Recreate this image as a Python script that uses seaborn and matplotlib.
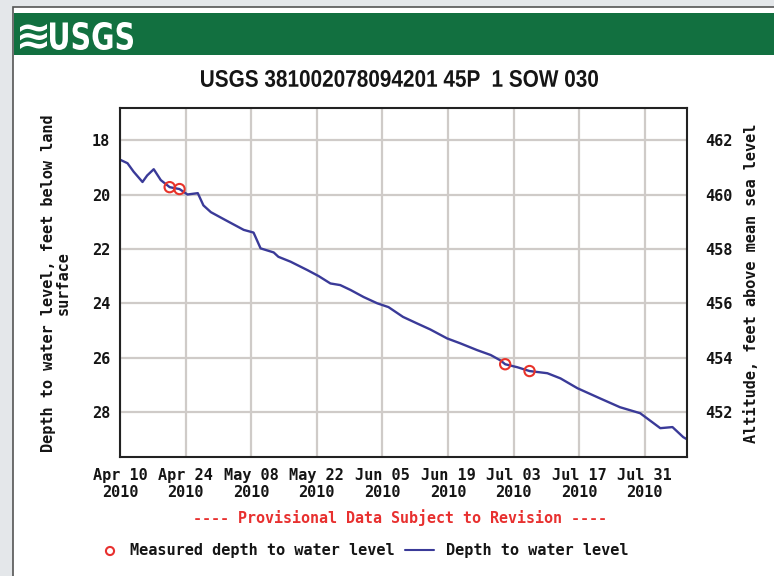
import pandas as pd
import matplotlib.pyplot as plt
import seaborn as sns
from matplotlib.patches import Rectangle, PathPatch
from matplotlib.textpath import TextPath
from matplotlib.font_manager import FontProperties
from matplotlib.transforms import Affine2D

# Data (days after 2010-04-10, depth in feet below land surface)
line_days = [0, 1.6, 2.9, 4.8, 5.8, 7.2, 8.7, 10.6, 12.7, 14.4, 16.6, 17.8, 19.4,
             22.5, 26.4, 28.5, 30.0, 32.8, 33.8, 36.4, 40.0, 42.4, 44.9, 47.0,
             49.2, 52.0, 54.9, 57.3, 60.4, 63.4, 66.2, 69.8, 72.6, 76.2, 79.1,
             81.2, 82.2, 84.8, 87.4, 91.2, 94.0, 97.6, 102.5, 106.7, 111.0,
             115.3, 117.9, 120.2, 121.0]
line_depth = [18.72, 18.85, 19.16, 19.54, 19.30, 19.07, 19.47, 19.73, 19.80, 20.00,
              19.95, 20.40, 20.65, 20.94, 21.30, 21.40, 21.98, 22.13, 22.29, 22.47,
              22.78, 23.00, 23.27, 23.33, 23.51, 23.77, 24.00, 24.14, 24.50, 24.74,
              24.96, 25.29, 25.47, 25.72, 25.90, 26.10, 26.24, 26.35, 26.49, 26.57,
              26.76, 27.12, 27.50, 27.82, 28.04, 28.59, 28.55, 28.92, 29.00]
meas_days = [10.6, 12.7, 82.2, 87.4]
meas_depth = [19.73, 19.80, 26.24, 26.49]

start = pd.Timestamp('2010-04-10')
tick_labels = ['Apr 10\n2010', 'Apr 24\n2010', 'May 08\n2010', 'May 22\n2010',
               'Jun 05\n2010', 'Jun 19\n2010', 'Jul 03\n2010', 'Jul 17\n2010',
               'Jul 31\n2010']
depth_ticks = [18, 20, 22, 24, 26, 28]
alt_ticks = [452, 454, 456, 458, 460, 462]
land_alt = 480.0

line_df = pd.DataFrame({'date': start + pd.to_timedelta(line_days, unit='D'),
                        'depth': line_depth})
meas_df = pd.DataFrame({'date': start + pd.to_timedelta(meas_days, unit='D'),
                        'depth': meas_depth})

sns.set_theme(style="whitegrid")
mono = 'DejaVu Sans Mono'
blue = '#3a3a98'
red = '#e8302f'
ink = '#151515'
fs = 11

fig = plt.figure(figsize=(7.74, 5.76), dpi=100, facecolor='#e4e7ea')

# background layer in pixel coordinates
bg = fig.add_axes([0, 0, 1, 1], zorder=-1)
bg.set_xlim(0, 774)
bg.set_ylim(576, 0)
bg.axis('off')
bg.add_patch(Rectangle((13, 7), 770, 580, facecolor='white', edgecolor='#555555', lw=1.2))
bg.add_patch(Rectangle((14, 13), 770, 42, facecolor='#127040', edgecolor='none'))


def fit_text(s, x0, x1, y0, y1, color, weight='bold', family='DejaVu Sans'):
    # squeeze a text outline into a pixel box (narrow typeface look)
    p = TextPath((0, 0), s, size=1, prop=FontProperties(family=family, weight=weight))
    b = p.get_extents()
    tr = (Affine2D().translate(-b.x0, -b.y1)
          .scale((x1 - x0) / b.width, -(y1 - y0) / b.height).translate(x0, y0))
    bg.add_patch(PathPatch(tr.transform_path(p), facecolor=color, edgecolor='none'))


fit_text('≋', 20, 47, 24, 49, 'white')
fit_text('USGS', 50, 133, 22, 50, 'white')
fit_text('USGS 381002078094201 45P  1 SOW 030', 201, 598, 70, 87, ink,
         weight='bold', family='Liberation Sans')

ax = fig.add_axes([120 / 774, 1 - 457 / 576, 567 / 774, 349 / 576])
ax.set_facecolor('white')
sns.lineplot(data=line_df, x='date', y='depth', ax=ax, color=blue, lw=1.7)
sns.scatterplot(data=meas_df, x='date', y='depth', ax=ax, marker='o', s=55,
                facecolor='none', edgecolor='#e8332a', linewidth=1.5, zorder=5)

ax.set_xlim(start, start + pd.Timedelta(days=121))
ax.set_ylim(29.65, 16.82)
ax.set_xticks([start + pd.Timedelta(days=14 * i) for i in range(len(tick_labels))])
ax.set_xticklabels(tick_labels, family=mono, fontweight='bold', fontsize=fs, linespacing=1.15)
ax.set_yticks(depth_ticks)
ax.set_yticklabels([str(t) for t in depth_ticks], family=mono, fontweight='bold', fontsize=fs)
ax.set_xlabel('')
ax.set_ylabel('')
ax.grid(True, color='#cfcbc8', lw=1.6)
ax.tick_params(axis='y', length=0, pad=7, colors=ink)
ax.tick_params(axis='x', length=0, pad=8, colors=ink)
for s in ax.spines.values():
    s.set_color('#222222')
    s.set_linewidth(1.5)

ax2 = ax.twinx()
ax2.set_ylim(land_alt - 29.65, land_alt - 16.82)
ax2.set_yticks(alt_ticks)
ax2.set_yticklabels([str(t) for t in alt_ticks], family=mono, fontweight='bold', fontsize=fs)
ax2.set_ylabel('')
ax2.grid(False)
ax2.tick_params(length=0, pad=13, colors=ink)
for s in ax2.spines.values():
    s.set_visible(False)

bg.text(56, 283, 'Depth to water level, feet below land\nsurface', rotation=90,
        family=mono, fontweight='bold', fontsize=fs, ha='center', va='center',
        multialignment='center', linespacing=0.95, color=ink)
bg.text(752, 283, 'Altitude, feet above mean sea level', rotation=90,
        family=mono, fontweight='bold', fontsize=fs, ha='center', va='center', color=ink)

bg.text(400, 518, '---- Provisional Data Subject to Revision ----', color=red,
        family=mono, fontweight='bold', fontsize=10.8, ha='center', va='center')
bg.scatter([110], [551], s=34, facecolor='none', edgecolor=red, linewidth=1.5)
bg.text(130, 551, 'Measured depth to water level', family=mono,
        fontweight='bold', fontsize=fs, ha='left', va='center', color=ink)
bg.plot([405, 434], [550, 550], color=blue, lw=1.5)
bg.text(446, 551, 'Depth to water level', family=mono,
        fontweight='bold', fontsize=fs, ha='left', va='center', color=ink)

fig.savefig('out.png', dpi=100, facecolor=fig.get_facecolor())
